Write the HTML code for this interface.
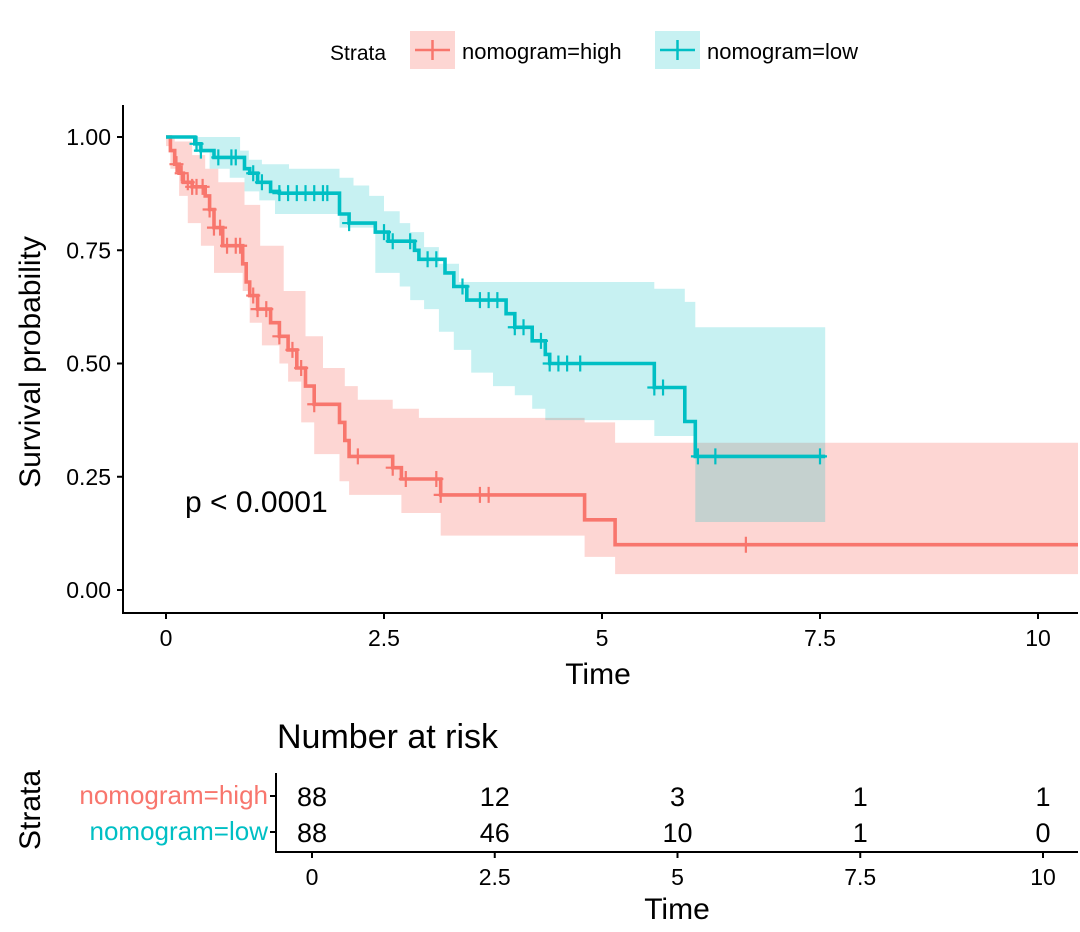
<!DOCTYPE html>
<html><head><meta charset="utf-8">
<style>
html,body{margin:0;padding:0;background:#fff;}
svg{display:block;font-family:"Liberation Sans",Arial,sans-serif;}
</style></head>
<body>
<svg id="chart" width="1080" height="932" viewBox="0 0 1080 932"></svg>
<script>
// ---------- data ----------
const highTimes = [0,0.05,0.1,0.15,0.2,0.3,0.45,0.5,0.55,0.65,0.88,0.92,0.96,1.05,1.2,1.3,1.4,1.5,1.6,1.7,1.99,2.05,2.1,2.6,2.7,3.15,4.8,5.15];
const highSurv  = [1.0,0.97,0.94,0.92,0.90,0.89,0.87,0.84,0.80,0.76,0.72,0.68,0.65,0.62,0.59,0.56,0.53,0.49,0.45,0.41,0.37,0.33,0.295,0.27,0.245,0.21,0.155,0.10];
const highUpTimes = [0,0.1,0.3,0.45,0.6,0.9,1.08,1.35,1.6,1.8,2.05,2.2,2.6,2.9,4.8,5.15];
const highUp      = [1,0.99,0.96,0.93,0.90,0.85,0.76,0.66,0.56,0.49,0.45,0.42,0.40,0.38,0.37,0.325];
const highLoTimes = [0,0.05,0.15,0.25,0.4,0.55,0.88,0.96,1.1,1.3,1.4,1.55,1.7,1.99,2.1,2.7,3.15,4.8,5.15];
const highLo      = [0.98,0.93,0.87,0.81,0.76,0.70,0.66,0.59,0.54,0.50,0.46,0.37,0.30,0.24,0.21,0.17,0.12,0.073,0.035];
const highCensor = [0.12,0.18,0.25,0.3,0.35,0.42,0.5,0.55,0.62,0.7,0.8,0.85,1.0,1.05,1.15,1.3,1.45,1.55,1.7,2.2,2.6,2.75,3.1,3.15,3.6,3.7,6.65];
const highEnd = 10.5;

const lowTimes = [0,0.33,0.4,0.55,0.9,0.96,1.05,1.2,1.3,1.99,2.1,2.4,2.55,2.85,2.9,3.2,3.3,3.45,3.9,4.0,4.2,4.35,4.4,5.6,5.95,6.07];
const lowSurv  = [1.0,0.985,0.97,0.955,0.93,0.92,0.90,0.88,0.876,0.83,0.81,0.79,0.77,0.75,0.73,0.70,0.67,0.64,0.61,0.58,0.55,0.52,0.50,0.447,0.372,0.295];
const lowUpTimes = [0,0.85,0.95,1.1,1.41,1.99,2.15,2.33,2.5,2.68,2.8,2.96,3.13,3.36,5.6,5.95,6.07];
const lowUp      = [1,0.97,0.95,0.94,0.93,0.91,0.893,0.87,0.836,0.81,0.79,0.757,0.72,0.68,0.665,0.636,0.58];
const lowLoTimes = [0,0.33,0.5,0.73,0.9,1.07,1.25,1.99,2.4,2.68,2.8,2.96,3.13,3.3,3.5,3.75,4.0,4.2,4.35,5.6,6.07];
const lowLo      = [1,0.97,0.93,0.91,0.88,0.86,0.83,0.80,0.70,0.67,0.64,0.62,0.57,0.53,0.48,0.45,0.43,0.40,0.375,0.34,0.15];
const lowCensor = [0.35,0.4,0.6,0.75,0.8,1.0,1.1,1.3,1.4,1.5,1.6,1.7,1.8,1.85,2.1,2.5,2.6,2.8,3.0,3.1,3.4,3.6,3.7,3.8,4.0,4.1,4.3,4.4,4.5,4.6,4.75,5.6,5.7,6.1,6.3,7.5];
const lowEnd = 7.56;

const xTicks = [0,2.5,5,7.5,10];
const xTickLabels = ["0","2.5","5","7.5","10"];
const yTicks = [0,0.25,0.5,0.75,1];
const yTickLabels = ["0.00","0.25","0.50","0.75","1.00"];
const riskTimes = [0,2.5,5,7.5,10];
const riskHigh = [88,12,3,1,1];
const riskLow = [88,46,10,1,0];

// ---------- scales ----------
const X = t => 166 + t*87.2;
const Y = s => 590 - s*453;
const XR = t => 312 + t*73.1;
const RED = "#F8766D", TEAL = "#00BFC4";
const NS = "http://www.w3.org/2000/svg";
const svg = document.getElementById("chart");
function el(tag, attrs, parent){
  const e = document.createElementNS(NS, tag);
  for (const k in attrs) e.setAttribute(k, attrs[k]);
  (parent||svg).appendChild(e); return e;
}
function txt(str, attrs){ const e = el("text", attrs); e.textContent = str; return e; }
function stepVal(times, vals, t){ let v = vals[0]; for (let i=0;i<times.length;i++){ if (times[i] <= t) v = vals[i]; } return v; }
function stepPts(times, vals, end){
  const pts = [];
  for (let i=0;i<times.length;i++){
    if (i>0) pts.push([X(times[i]), Y(vals[i-1])]);
    pts.push([X(times[i]), Y(vals[i])]);
  }
  pts.push([X(end), Y(vals[vals.length-1])]);
  return pts;
}
function band(upT, up, loT, lo, end, color, op, name){
  const u = stepPts(upT, up, end), l = stepPts(loT, lo, end).reverse();
  const d = "M" + u.concat(l).map(p=>p[0].toFixed(1)+","+p[1].toFixed(1)).join("L") + "Z";
  const p = el("path", {d: d, fill: color, "fill-opacity": op, stroke: "none"});
  
  
}
function curve(times, vals, end, color, name){
  const pts = stepPts(times, vals, end);
  const p = el("polyline", {points: pts.map(p=>p[0].toFixed(1)+","+p[1].toFixed(1)).join(" "), fill:"none", stroke: color, "stroke-width": 3.6});
  
  
}
function censors(list, times, vals, color, name){
  const g = el("g", {stroke: color, "stroke-width": 2.2});
  
  
  list.forEach(t => {
    const x = X(t), y = Y(stepVal(times, vals, t));
    el("path", {d: `M${x-7},${y}H${x+7}M${x},${y-8}V${y+8}`}, g);
  });
}

band(highUpTimes, highUp, highLoTimes, highLo, highEnd, RED, 0.3, "ci-band-high");
band(lowUpTimes, lowUp, lowLoTimes, lowLo, lowEnd, TEAL, 0.22, "ci-band-low");
curve(highTimes, highSurv, highEnd, RED, "curve-high");
curve(lowTimes, lowSurv, lowEnd, TEAL, "curve-low");
censors(highCensor, highTimes, highSurv, RED, "censor-marks-high");
censors(lowCensor, lowTimes, lowSurv, TEAL, "censor-marks-low");

el("rect",{x:1078,y:0,width:2,height:932,fill:"#fff"});

// axes main
let a = el("path",{d:"M123,105V613H1078",fill:"none",stroke:"#000","stroke-width":2});


yTicks.forEach((v,i)=>{
  el("line",{x1:117,x2:123,y1:Y(v),y2:Y(v),stroke:"#000","stroke-width":2});
  const t = txt(yTickLabels[i],{x:111,y:Y(v)+8,"text-anchor":"end","font-size":23,fill:"#000"});
  
  
});
xTicks.forEach((v,i)=>{
  el("line",{x1:X(v),x2:X(v),y1:613,y2:619,stroke:"#000","stroke-width":2});
  const t = txt(xTickLabels[i],{x:X(v),y:646,"text-anchor":"middle","font-size":23,fill:"#000"});
  
  
});
let t1 = txt("Time",{x:598,y:684,"text-anchor":"middle","font-size":30});


let t2 = txt("Survival probability",{x:0,y:0,"text-anchor":"middle","font-size":30,transform:"translate(40,362) rotate(-90)"});


let pv = txt("p < 0.0001",{x:185,y:512,"font-size":30});



// legend
let lg = el("g",{});


let lt = txt("Strata",{x:330,y:60,"font-size":21},lg);


[[RED,410,"nomogram=high",462,0.3],[TEAL,655,"nomogram=low",707,0.22]].forEach(([c,x,lab,tx,op])=>{
  const r = el("rect",{x:x,y:31,width:45,height:38,fill:c,"fill-opacity":op},lg);
  
  
  el("path",{d:`M${x+5},50H${x+40}M${x+22.5},40V60`,stroke:c,"stroke-width":2.5},lg);
  const t = txt(lab,{x:tx,y:59,"font-size":22},lg);
  
  
});

// risk table
let rt = txt("Number at risk",{x:277,y:748,"font-size":34});


let ra = el("path",{d:"M276,773V852H1078",fill:"none",stroke:"#000","stroke-width":2});


el("line",{x1:270,x2:276,y1:796,y2:796,stroke:"#000","stroke-width":2});
el("line",{x1:270,x2:276,y1:832,y2:832,stroke:"#000","stroke-width":2});
let lh = txt("nomogram=high",{x:268,y:804,"text-anchor":"end","font-size":26,fill:RED});


let ll = txt("nomogram=low",{x:268,y:840,"text-anchor":"end","font-size":26,fill:TEAL});


let st = txt("Strata",{x:0,y:0,"text-anchor":"middle","font-size":30,transform:"translate(40,810) rotate(-90)"});


riskTimes.forEach((t,i)=>{
  const a1 = txt(String(riskHigh[i]),{x:XR(t),y:806,"text-anchor":"middle","font-size":27});
  
  
  const a2 = txt(String(riskLow[i]),{x:XR(t),y:842,"text-anchor":"middle","font-size":27});
  
  
  el("line",{x1:XR(t),x2:XR(t),y1:852,y2:858,stroke:"#000","stroke-width":2});
  const a3 = txt(xTickLabels[i],{x:XR(t),y:885,"text-anchor":"middle","font-size":23});
  
  
});
let rtt = txt("Time",{x:677,y:919,"text-anchor":"middle","font-size":30});


</script>
</body></html>
